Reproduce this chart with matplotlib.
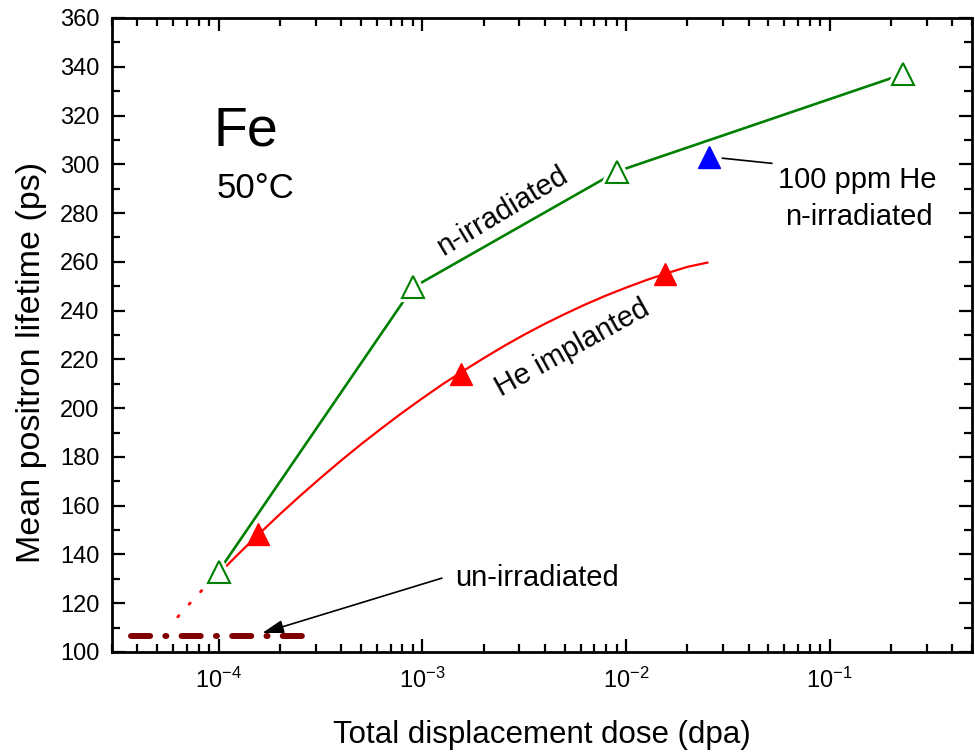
import matplotlib
matplotlib.use("Agg")
import matplotlib.pyplot as plt
from matplotlib.ticker import FixedLocator, FixedFormatter, LogLocator, MultipleLocator, NullFormatter

plt.rcParams['font.family'] = ['Liberation Sans', 'DejaVu Sans']
plt.rcParams['mathtext.fontset'] = 'custom'
plt.rcParams['mathtext.rm'] = 'Liberation Sans'
plt.rcParams['mathtext.it'] = 'Liberation Sans:italic'

# ---- data ----
n_irr_dose = [1.0e-4, 9.0e-4, 9.0e-3, 0.23]
n_irr_tau = [133, 249.5, 297, 337]

he_impl_dose = [1.56e-4, 1.55e-3, 1.55e-2]
he_impl_tau = [148.3, 214, 255]

he_nirr_dose = [0.0256]
he_nirr_tau = [303]

# fitted curve through He-implanted data
fit_dose = [1.0e-4, 1.259e-4, 1.585e-4, 1.995e-4, 2.512e-4, 3.162e-4, 3.981e-4,
            5.012e-4, 6.31e-4, 7.943e-4, 1.0e-3, 1.259e-3, 1.585e-3, 1.995e-3,
            2.512e-3, 3.162e-3, 3.981e-3, 5.012e-3, 6.31e-3, 7.943e-3, 1.0e-2,
            1.259e-2, 1.585e-2, 1.995e-2, 2.512e-2]
fit_tau = [132, 140.4, 148.5, 156.4, 164.0, 171.3, 178.4, 185.2, 191.7, 198.0,
           204.0, 209.8, 215.2, 220.4, 225.4, 230.1, 234.5, 238.6, 242.5, 246.1,
           249.4, 252.5, 255.3, 257.9, 259.7]
extrap_dose = [6.31e-5, 8.0e-5, 1.0e-4]
extrap_tau = [114.4, 124.0, 132]

unirr_dose = [3.7e-5, 2.58e-4]
unirr_tau = [106.4, 106.4]

xtick_vals = [1e-4, 1e-3, 1e-2, 1e-1]
xtick_labels = [r'$\mathregular{10^{-4}}$', r'$\mathregular{10^{-3}}$',
                r'$\mathregular{10^{-2}}$', r'$\mathregular{10^{-1}}$']
ytick_vals = list(range(100, 361, 20))

# ---- figure ----
fig = plt.figure(figsize=(9.75, 7.56), dpi=100)
ax = fig.add_axes([112/975, (756-652)/756, (972-112)/975, (652-18)/756])

ax.set_xscale('log')
ax.set_xlim(3.0e-5, 0.5)
ax.set_ylim(100, 360)

green = '#008000'
ms = 16

# n-irradiated line with gaps around open markers
ax.plot(n_irr_dose, n_irr_tau, color=green, lw=1.9, zorder=2)
ax.plot(n_irr_dose, n_irr_tau, ls='none', marker='^', ms=ms, mfc='white',
        mec='white', mew=6, zorder=3)
ax.plot(n_irr_dose, n_irr_tau, ls='none', marker='^', ms=ms, mfc='none',
        mec=green, mew=1.5, zorder=4)

# He implanted fit + markers
ax.plot(fit_dose, fit_tau, color='red', lw=1.6, zorder=2)
ax.plot(extrap_dose, extrap_tau, color='red', lw=2.0, ls=(0, (0.6, 5.5)),
        dash_capstyle='round', zorder=2)
ax.plot(he_impl_dose, he_impl_tau, ls='none', marker='^', ms=ms, mfc='red',
        mec='red', mew=1, zorder=5)

# 100 ppm He + n-irradiated
ax.plot(he_nirr_dose, he_nirr_tau, ls='none', marker='^', ms=ms, mfc='blue',
        mec='blue', mew=1, zorder=5)

# un-irradiated level
ax.plot(unirr_dose, unirr_tau, color='#800000', lw=4.3,
        dashes=(3.2, 2.55, 0.17, 2.55), dash_capstyle='round', zorder=2)

# ---- annotations ----
ax.text(9.45e-5, 307.9, 'Fe', fontsize=40, ha='left', va='baseline')
ax.text(9.78e-5, 286.2, '50°C', fontsize=25, ha='left', va='baseline')
ax.text(2.47e-3, 280.7, 'n-irradiated', fontsize=21, rotation=31,
        ha='center', va='center', rotation_mode='anchor')
ax.text(5.43e-3, 224.6, 'He implanted', fontsize=21, rotation=29,
        ha='center', va='center', rotation_mode='anchor')
ax.text(1.45e-3, 127.1, 'un-irradiated', fontsize=21, ha='left', va='baseline')
ax.text(0.137, 290.3, '100 ppm He', fontsize=21, ha='center', va='baseline')
ax.text(0.139, 275.1, 'n-irradiated', fontsize=21, ha='center', va='baseline')

ax.annotate('', xy=(1.64e-4, 107.8), xytext=(1.25e-3, 130.3),
            arrowprops=dict(arrowstyle='-|>,head_length=0.65,head_width=0.2',
                            color='black', lw=1.2, mutation_scale=20,
                            shrinkA=0, shrinkB=0))
ax.plot([0.0298, 0.052], [302.5, 300.4], color='black', lw=1.2)

# ---- axes styling ----
ax.xaxis.set_major_locator(FixedLocator(xtick_vals))
ax.xaxis.set_major_formatter(FixedFormatter(xtick_labels))
ax.xaxis.set_minor_locator(LogLocator(base=10, subs=range(2, 10), numticks=20))
ax.xaxis.set_minor_formatter(NullFormatter())
ax.yaxis.set_major_locator(FixedLocator(ytick_vals))
ax.set_yticklabels([str(v) for v in ytick_vals])
ax.yaxis.set_minor_locator(MultipleLocator(10))

ax.tick_params(which='both', direction='in', top=True, right=True, width=1.6)
ax.tick_params(which='major', length=9.5)
ax.tick_params(which='minor', length=5.5)
ax.tick_params(axis='y', which='major', labelsize=17, pad=9)
ax.tick_params(axis='x', which='major', labelsize=17, pad=11)
for s in ax.spines.values():
    s.set_linewidth(2)

ax.set_xlabel('Total displacement dose (dpa)', fontsize=22.5, labelpad=20)
ax.set_ylabel('Mean positron lifetime (ps)', fontsize=24.5)
ax.yaxis.set_label_coords(-0.076, 0.457)

fig.savefig('out.png', dpi=100)
